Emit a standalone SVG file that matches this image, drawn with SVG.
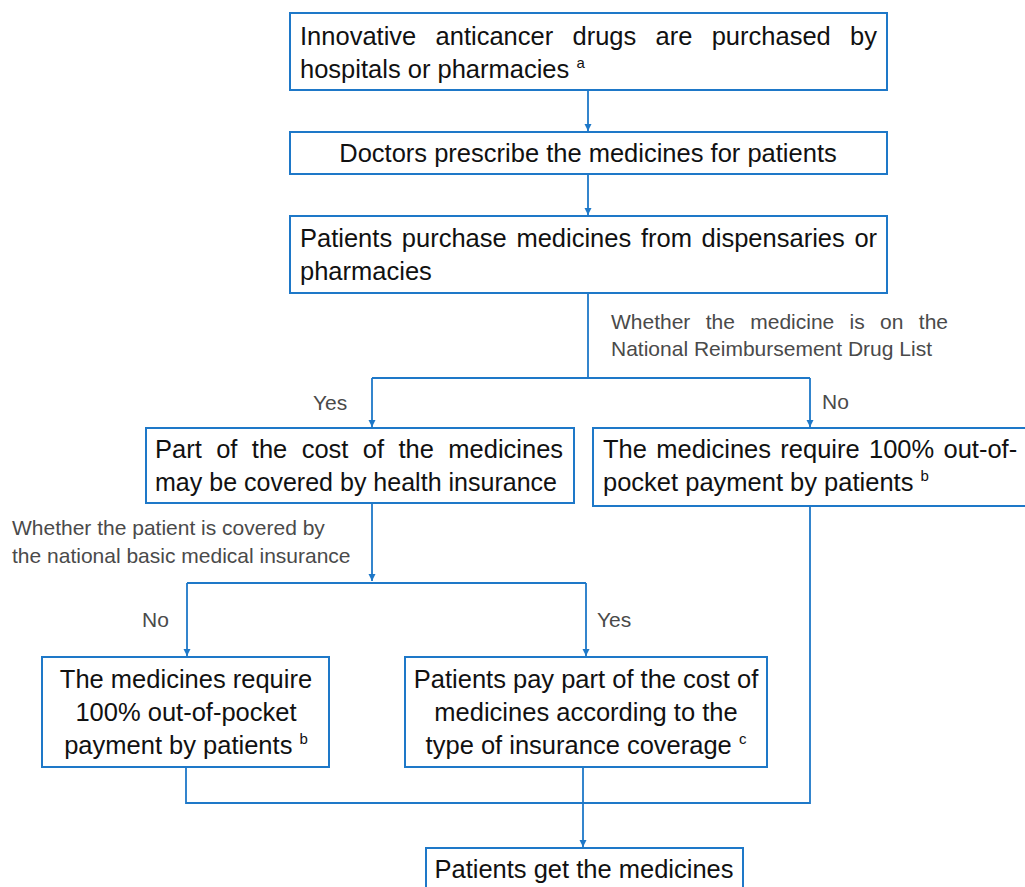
<svg xmlns="http://www.w3.org/2000/svg" width="1025" height="887" viewBox="0 0 1025 887">
<style>
.box{fill:#fff;stroke:#1e78c8;stroke-width:2}
.t{font-family:"Liberation Sans",Arial,sans-serif;font-size:25.5px;fill:#111}
.c{text-anchor:middle}
.l{font-family:"Liberation Sans",Arial,sans-serif;font-size:21px;fill:#4a4a4a}
.sup{font-size:15px}
.con{fill:none;stroke:#1e78c8;stroke-width:1.8}
</style>
<defs>
<marker id="ah" markerWidth="9" markerHeight="9" refX="7" refY="4.5" orient="auto" markerUnits="userSpaceOnUse">
<path d="M0,1 L7,4.5 L0,8 Z" fill="#1e78c8"/>
</marker>
</defs>
<rect width="1025" height="887" fill="#fff"/>
<g id="connectors">
<path class="con" d="M588,90 V131" marker-end="url(#ah)"/>
<path class="con" d="M588,174 V215" marker-end="url(#ah)"/>
<path class="con" d="M588,293 V378"/>
<path class="con" d="M372,378 H810"/>
<path class="con" d="M372,378 V427" marker-end="url(#ah)"/>
<path class="con" d="M810,378 V427" marker-end="url(#ah)"/>
<path class="con" d="M372,503 V581" marker-end="url(#ah)"/>
<path class="con" d="M187,583 H586"/>
<path class="con" d="M187,583 V656" marker-end="url(#ah)"/>
<path class="con" d="M586,583 V656" marker-end="url(#ah)"/>
<path class="con" d="M186,767 V803 H810 V506"/>
<path class="con" d="M583,767 V847" marker-end="url(#ah)"/>
</g>
<g id="labels">
<text class="l" x="611" y="329" word-spacing="9.5">Whether the medicine is on the</text>
<text class="l" x="611" y="356">National Reimbursement Drug List</text>
<text class="l" x="313" y="410">Yes</text>
<text class="l" x="822" y="409">No</text>
<text class="l" x="12" y="535">Whether the patient is covered by</text>
<text class="l" x="12" y="563">the national basic medical insurance</text>
<text class="l" x="142" y="627">No</text>
<text class="l" x="597" y="627">Yes</text>
</g>
<g id="n1">
<rect class="box" x="290" y="13" width="597" height="77"/>
<text class="t" x="300" y="45" word-spacing="12.2">Innovative anticancer drugs are purchased by</text>
<text class="t" x="300" y="78">hospitals or pharmacies <tspan class="sup" dy="-10">a</tspan></text>
</g>
<g id="n2">
<rect class="box" x="290" y="132" width="597" height="42"/>
<text class="t c" x="588" y="162">Doctors prescribe the medicines for patients</text>
</g>
<g id="n3">
<rect class="box" x="290" y="216" width="597" height="77"/>
<text class="t" x="300" y="247" word-spacing="2.6">Patients purchase medicines from dispensaries or</text>
<text class="t" x="300" y="280">pharmacies</text>
</g>
<g id="n4">
<rect class="box" x="146" y="428" width="428" height="75"/>
<text class="t" x="155" y="458" word-spacing="7.3">Part of the cost of the medicines</text>
<text class="t" x="155" y="491" textLength="402" lengthAdjust="spacingAndGlyphs">may be covered by health insurance</text>
</g>
<g id="n5">
<rect class="box" x="593" y="428" width="440" height="78"/>
<text class="t" x="603" y="458" word-spacing="2.2">The medicines require 100% out-of-</text>
<text class="t" x="603" y="491">pocket payment by patients <tspan class="sup" dy="-10">b</tspan></text>
</g>
<g id="n6">
<rect class="box" x="42" y="657" width="287" height="110"/>
<text class="t c" x="186" y="688">The medicines require</text>
<text class="t c" x="186" y="721">100% out-of-pocket</text>
<text class="t c" x="186" y="754">payment by patients <tspan class="sup" dy="-10">b</tspan></text>
</g>
<g id="n7">
<rect class="box" x="405" y="657" width="362" height="110"/>
<text class="t c" x="586" y="688">Patients pay part of the cost of</text>
<text class="t c" x="586" y="721">medicines according to the</text>
<text class="t c" x="586" y="754">type of insurance coverage <tspan class="sup" dy="-10">c</tspan></text>
</g>
<g id="n8">
<rect class="box" x="426" y="848" width="317" height="50"/>
<text class="t c" x="584" y="878">Patients get the medicines</text>
</g>
</svg>
